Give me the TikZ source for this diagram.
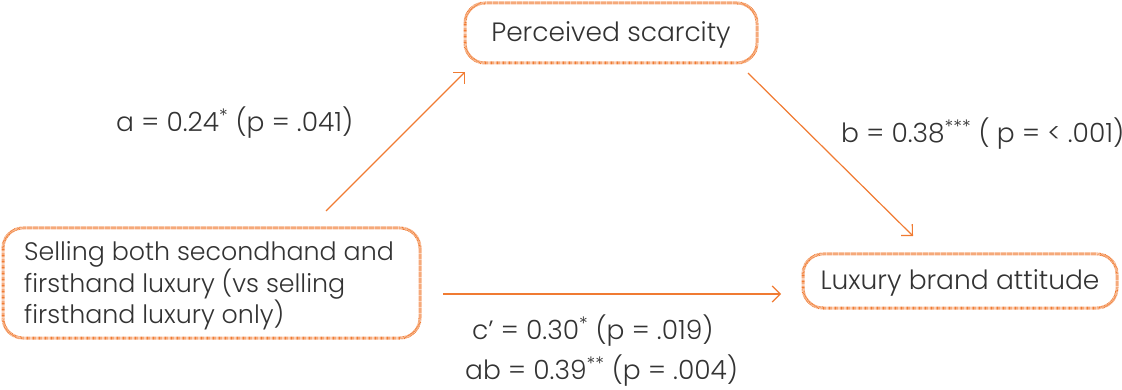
\documentclass[tikz,border=0pt]{standalone}
\usepackage{fontspec}
\setmainfont{Poppins}[UprightFont=* Light]
\usetikzlibrary{arrows.meta}
\definecolor{orng}{HTML}{F07B32}
\definecolor{txt}{HTML}{333333}
\tikzset{
  box/.style={draw=orng, line width=3pt, dash pattern=on 0.6pt off 0.6pt, rounded corners=20pt},
  lbl/.style={text=txt, font=\fontsize{26.5}{30}\selectfont, inner sep=0pt},
  conn/.style={draw=orng, line width=1.2pt, -{Straight Barb[length=8pt,width=16pt,line width=1.2pt]}}
}
\begin{document}
\begin{tikzpicture}[x=1pt,y=-1pt]
\useasboundingbox (0,0) rectangle (1122,390);
\clip (0,0) rectangle (1122,390);
% boxes
\draw[box] (465,3) rectangle (757,63);
\node[lbl] (ps) at (611,35) {Perceived scarcity};
\draw[box] (3,228) rectangle (420,338);
\node[lbl, anchor=west, align=left, font=\fontsize{25.3}{28.5}\selectfont] (sel) at (24,286) {Selling both secondhand and\\firsthand luxury (vs selling\\firsthand luxury only)};
\draw[box] (803,254) rectangle (1117,308);
\node[lbl] (lba) at (960,283) {Luxury brand attitude};
% connectors
\coordinate (a1) at (326,211); \coordinate (a2) at (465,72);
\coordinate (b1) at (748,73); \coordinate (b2) at (913,236);
\coordinate (c1) at (443,294); \coordinate (c2) at (781,294);
\draw[conn] (a1) -- (a2);
\draw[conn] (b1) -- (b2);
\draw[conn] (c1) -- (c2);
% labels
\node[lbl, anchor=west] (la) at (116,123) {a = 0.24\textsuperscript{*} (p = .041)};
\node[lbl, anchor=west] (lb) at (841,134) {b = 0.38\textsuperscript{***} ( p = < .001)};
\node[lbl, anchor=west] (lc) at (472,331) {c’ = 0.30\textsuperscript{*} (p = .019)};
\node[lbl, anchor=west] (lab) at (465,371) {ab = 0.39\textsuperscript{**} (p = .004)};
\end{tikzpicture}
\end{document}
